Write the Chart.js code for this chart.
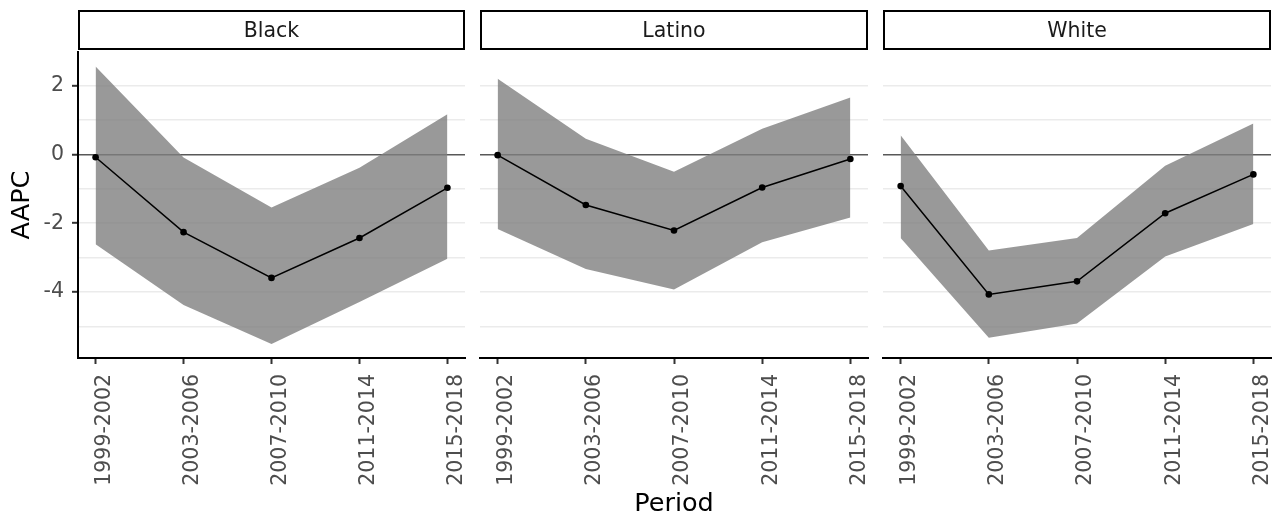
<!DOCTYPE html>
<html><head><meta charset="utf-8">
<script src="https://cdn.jsdelivr.net/npm/chart.js@4"></script>
<style>
html,body{margin:0;padding:0;background:#fff;}
#wrap{position:relative;width:1275px;height:518px;overflow:hidden;background:#fff;}
canvas{position:absolute;top:0;}
</style></head><body>
<div id="wrap">
<canvas id="c0" width="470" height="518" style="left:0px;width:470px;height:518px"></canvas>
<canvas id="c1" width="403" height="518" style="left:470px;width:403px;height:518px"></canvas>
<canvas id="c2" width="402" height="518" style="left:873px;width:402px;height:518px"></canvas>
</div>
<script>
const periods = ['1999-2002','2003-2006','2007-2010','2011-2014','2015-2018'];
const groups = ['Black','Latino','White'];
const aapcBlack  = [-0.08, -2.26, -3.59, -2.43, -0.97];
const upperBlack = [ 2.56, -0.09, -1.54, -0.39,  1.17];
const lowerBlack = [-2.61, -4.38, -5.51, -4.29, -3.03];
const aapcLatino  = [-0.02, -1.47, -2.21, -0.96, -0.13];
const upperLatino = [ 2.20,  0.46, -0.50,  0.75,  1.66];
const lowerLatino = [-2.17, -3.33, -3.93, -2.55, -1.83];
const aapcWhite  = [-0.92, -4.07, -3.69, -1.71, -0.58];
const upperWhite = [ 0.56, -2.79, -2.43, -0.33,  0.90];
const lowerWhite = [-2.43, -5.33, -4.92, -2.97, -2.02];
const yTickLabels = [-4, -2, 0, 2];

const FONT = 'DejaVu Sans';
const stripPlugin = {
  id: 'strip',
  afterDraw(chart) {
    const {ctx, chartArea: a} = chart;
    ctx.save();
    ctx.strokeStyle = '#000';
    ctx.lineWidth = 2;
    ctx.strokeRect(a.left + 1, 11, a.right - a.left - 2, 38);
    ctx.restore();
  }
};

function make(id, idx, aapc, upper, lower) {
  const first = idx === 0, mid = idx === 1;
  const pts = arr => arr.map((v, i) => ({x: i, y: v}));
  return new Chart(document.getElementById(id), {
    type: 'line',
    data: {datasets: [
      {data: pts(aapc), borderColor: '#000', borderWidth: 1.5, pointRadius: 3.3, pointBackgroundColor: '#000',
       pointBorderWidth: 0, fill: false, tension: 0},
      {data: pts(upper), borderColor: 'rgba(0,0,0,0)', borderWidth: 0, pointRadius: 0, fill: '+1',
       backgroundColor: 'rgba(127,127,127,0.8)', tension: 0},
      {data: pts(lower), borderColor: 'rgba(0,0,0,0)', borderWidth: 0, pointRadius: 0, fill: false, tension: 0}
    ]},
    options: {
      responsive: false, animation: false, devicePixelRatio: 1,
      layout: {padding: {left: first ? 0 : 10, right: idx === 2 ? 4 : 5, top: 0, bottom: 0}},
      plugins: {
        legend: {display: false}, tooltip: {enabled: false},
        title: {display: true, text: groups[idx], fullSize: false, color: '#1A1A1A',
                font: {family: FONT, size: 20.5, weight: 'normal', lineHeight: 1.2},
                padding: {top: 19.7, bottom: 7.7}}
      },
      scales: {
        x: {
          type: 'linear', min: -0.2, max: 4.2,
          afterFit: s => { s.height = 160; s.paddingLeft = 0; s.paddingRight = 0; },
          ticks: {stepSize: 1, includeBounds: false, autoSkip: false, minRotation: 90, maxRotation: 90,
                  padding: 10, labelOffset: 9, color: '#4D4D4D', font: {family: FONT, size: 20.5},
                  callback: v => (periods[v] !== undefined ? periods[v] : '')},
          grid: {drawOnChartArea: false, drawTicks: true, tickLength: 6, tickWidth: 2, tickColor: '#333'},
          border: {display: true, color: '#000', width: 2},
          title: {display: mid, text: 'Period', color: '#000', font: {family: FONT, size: 25.5, lineHeight: 1.1},
                  padding: {top: 0, bottom: 0}}
        },
        y: {
          min: -5.92, max: 2.98,
          afterFit: s => { s.width = first ? 78 : 0; },
          ticks: {display: first, stepSize: 1, includeBounds: false, padding: 8, color: '#4D4D4D',
                  font: {family: FONT, size: 20.5},
                  callback: v => (yTickLabels.includes(v) ? String(v) : '')},
          grid: {
            color: c => (c.tick && c.tick.value === 0 ? 'rgba(70,70,70,0.9)' : '#EBEBEB'),
            lineWidth: c => (c.tick && c.tick.value === 0 ? 1.5 : 1.6),
            drawTicks: first, tickLength: 6, tickWidth: 2,
            tickColor: c => (c.tick && yTickLabels.includes(c.tick.value) ? '#333' : 'rgba(0,0,0,0)')
          },
          border: {display: first, color: '#000', width: 2},
          title: {display: first, text: 'AAPC', color: '#000', font: {family: FONT, size: 25.5},
                  padding: {top: 7.5, bottom: 0}}
        }
      }
    },
    plugins: [stripPlugin]
  });
}
make('c0', 0, aapcBlack, upperBlack, lowerBlack);
make('c1', 1, aapcLatino, upperLatino, lowerLatino);
make('c2', 2, aapcWhite, upperWhite, lowerWhite);
</script>
</body></html>
